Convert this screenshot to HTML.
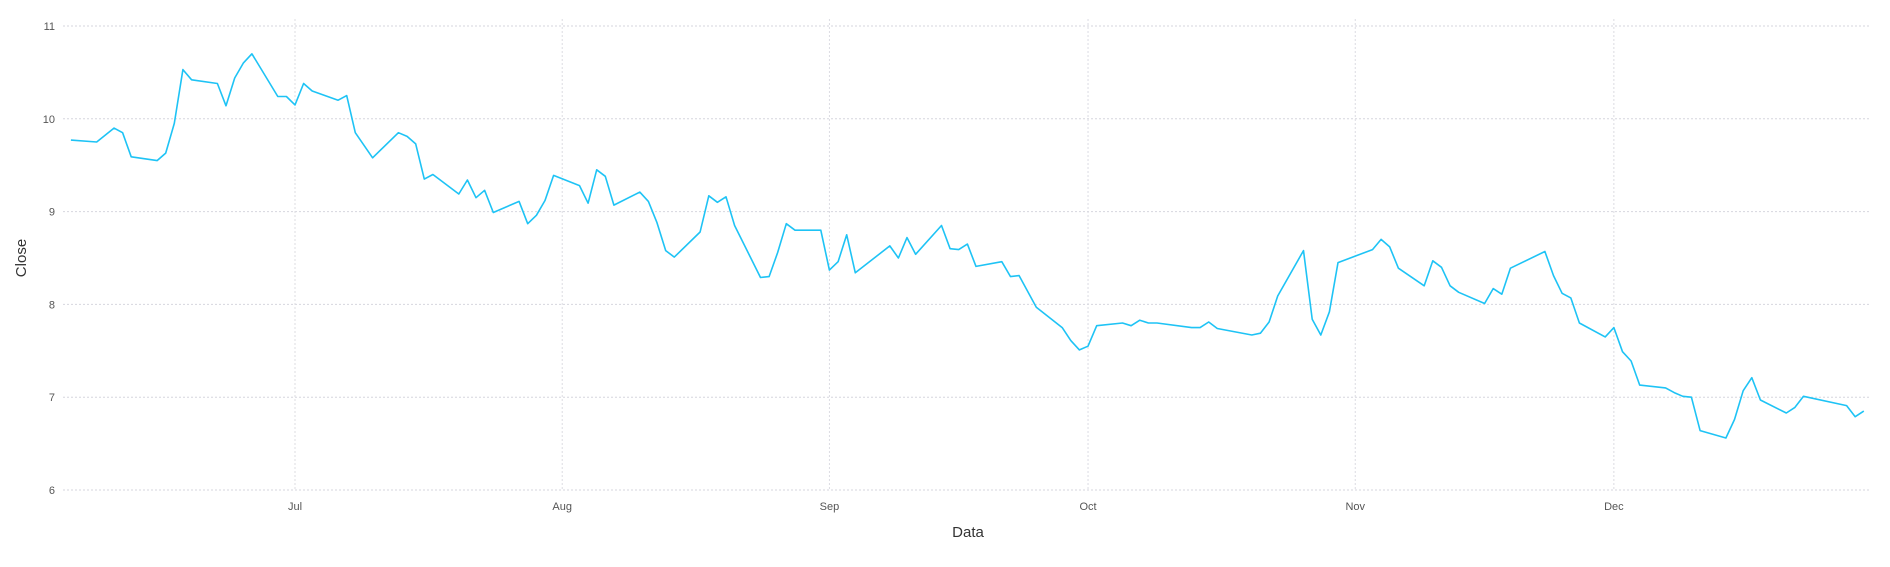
<!DOCTYPE html>
<html><head><meta charset="utf-8">
<style>
html,body{margin:0;padding:0;background:#fff;}
svg{display:block;font-family:"Liberation Sans",sans-serif;}
</style></head>
<body>
<svg id="chart" width="1890" height="567" viewBox="0 0 1890 567">
<g id="grid"></g>
<g id="yaxis"></g>
<g id="xaxis"></g>
<path id="line" fill="none" stroke="#1ec3f5" stroke-width="1.6" stroke-linejoin="round"></path>
<text x="26" y="258" transform="rotate(-90 26 258)" text-anchor="middle" font-size="15" fill="#333">Close</text>
<text x="968" y="537" text-anchor="middle" font-size="15" fill="#333">Data</text>
</svg>
<script>
// days relative to Jul 1
const days = [-26,-23,-21,-20,-19,-16,-15,-14,-13,-12,-9,-8,-7,-6,-5,-2,-1,0,1,2,5,6,7,9,12,13,14,15,16,19,20,21,22,23,26,27,28,29,30,33,34,35,36,37,40,41,42,43,44,47,48,49,50,51,54,55,56,57,58,61,62,63,64,65,69,70,71,72,75,76,77,78,79,82,83,84,86,89,90,91,92,93,96,97,98,99,100,104,105,106,107,111,112,113,114,117,118,119,120,121,125,126,127,128,131,132,133,134,135,138,139,140,141,145,146,147,148,149,152,153,154,155,156,159,160,161,162,163,166,167,168,169,170,173,174,175,180,181,182];
const closes = [9.77,9.75,9.90,9.85,9.59,9.55,9.63,9.95,10.53,10.42,10.38,10.14,10.44,10.60,10.70,10.24,10.24,10.15,10.38,10.30,10.20,10.25,9.85,9.58,9.85,9.81,9.73,9.35,9.40,9.19,9.34,9.15,9.23,8.99,9.11,8.87,8.96,9.12,9.39,9.28,9.09,9.45,9.38,9.07,9.21,9.11,8.88,8.58,8.51,8.78,9.17,9.10,9.16,8.85,8.29,8.30,8.56,8.87,8.80,8.80,8.37,8.46,8.75,8.34,8.63,8.50,8.72,8.54,8.85,8.60,8.59,8.65,8.41,8.46,8.30,8.31,7.97,7.75,7.61,7.51,7.55,7.77,7.80,7.77,7.83,7.80,7.80,7.75,7.75,7.81,7.74,7.67,7.69,7.81,8.09,8.58,7.84,7.67,7.92,8.45,8.59,8.70,8.62,8.39,8.20,8.47,8.40,8.20,8.13,8.01,8.17,8.11,8.39,8.57,8.31,8.12,8.07,7.80,7.65,7.75,7.49,7.39,7.13,7.10,7.05,7.01,7.00,6.64,6.56,6.76,7.07,7.21,6.97,6.83,6.89,7.01,6.91,6.79,6.85];
const yTicks = [6,7,8,9,10,11];
const monthLabels = ["Jul","Aug","Sep","Oct","Nov","Dec"];
const monthDays = [0,31,62,92,123,153];

const NS="http://www.w3.org/2000/svg";
const X0=295, PXD=8.62, YTOP=26, PXV=92.8;
function xs(d){return X0+d*PXD;}
function ys(v){return YTOP+(11-v)*PXV;}
const grid=document.getElementById('grid'), ya=document.getElementById('yaxis'), xa=document.getElementById('xaxis');
yTicks.forEach(t=>{
  const l=document.createElementNS(NS,'line');
  
  
  l.setAttribute('x1',63);l.setAttribute('x2',1870);l.setAttribute('y1',ys(t));l.setAttribute('y2',ys(t));
  l.setAttribute('stroke','#d6d6de');l.setAttribute('stroke-dasharray','2,2');
  grid.appendChild(l);
  const tx=document.createElementNS(NS,'text');
  
  
  tx.setAttribute('x',55);tx.setAttribute('y',ys(t)+4);tx.setAttribute('text-anchor','end');
  tx.setAttribute('font-size','11');tx.setAttribute('fill','#555');tx.textContent=t;
  ya.appendChild(tx);
});
monthLabels.forEach((m,i)=>{
  const x=xs(monthDays[i]);
  const l=document.createElementNS(NS,'line');
  
  
  l.setAttribute('x1',x);l.setAttribute('x2',x);l.setAttribute('y1',19);l.setAttribute('y2',490);
  l.setAttribute('stroke','#dcdce2');l.setAttribute('stroke-dasharray','2,2');
  grid.appendChild(l);
  const tx=document.createElementNS(NS,'text');
  
  
  tx.setAttribute('x',x);tx.setAttribute('y',510);tx.setAttribute('text-anchor','middle');
  tx.setAttribute('font-size','11');tx.setAttribute('fill','#555');tx.textContent=m;
  xa.appendChild(tx);
});
let d='';
days.forEach((dd,i)=>{d+=(i?'L':'M')+xs(dd).toFixed(1)+','+ys(closes[i]).toFixed(1);});
document.getElementById('line').setAttribute('d',d);
</script>
</body></html>
